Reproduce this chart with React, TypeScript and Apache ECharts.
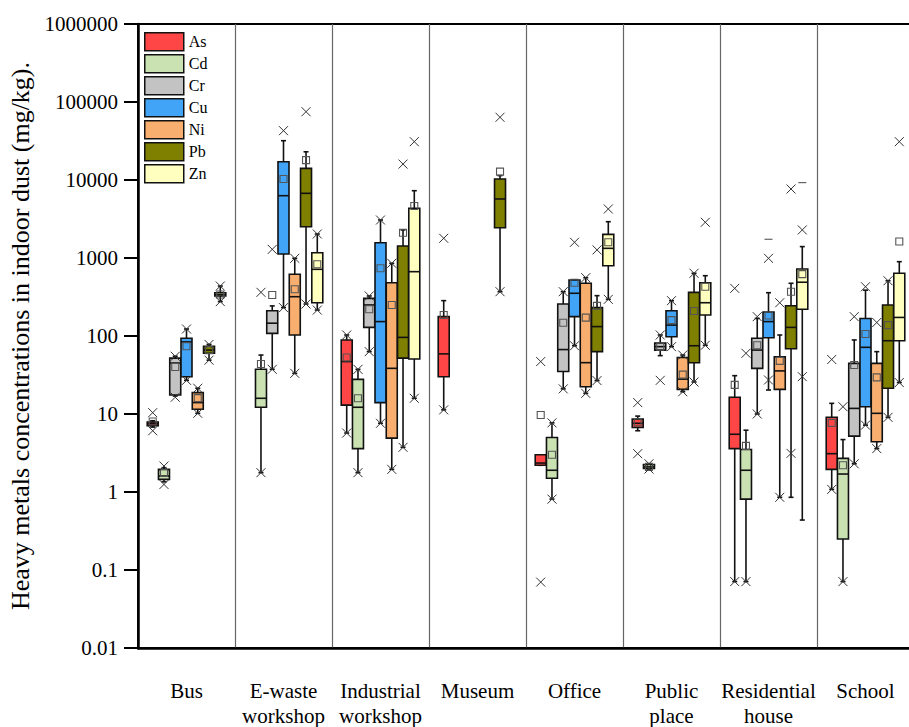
import React, { useEffect, useRef } from "react";
import * as echarts from "echarts";

const categories = ["Bus", "E-waste\nworkshop", "Industrial\nworkshop", "Museum", "Office", "Public\nplace", "Residential\nhouse", "School"];
const metals = ["As", "Cd", "Cr", "Cu", "Ni", "Pb", "Zn"];
const metalColors = ["#FF4646", "#CAE2B2", "#C3C3C3", "#42A4F7", "#F7AE6E", "#808000", "#FFFFC0"];
const yTickLabels = ["0.01", "0.1", "1", "10", "100", "1000", "10000", "100000", "1000000"];

// [min, Q1, median, Q3, max, mean] per category
const asStats = [
  [6.8, 7.1, 7.5, 7.9, 8.2, 8.0], null, [5.7, 13, 47, 89, 103, 53], [11.3, 30, 59, 177, 284, 186],
  [2.2, 2.2, 2.35, 3.0, 3.0, 9.7], [6.1, 6.7, 7.6, 8.6, 9.4, 7.8], [0.071, 3.6, 5.5, 16.4, 31, 23.6], [1.08, 1.95, 3.1, 9.1, 13.7, 7.7],
];
const cdStats = [
  [1.35, 1.45, 1.6, 1.95, 2.05, 1.75], [1.77, 12.2, 15.9, 37.4, 57, 43.8], [1.77, 3.6, 12.2, 27.8, 37.4, 15.9], null,
  [0.81, 1.5, 1.9, 5.0, 7.7, 3.0], [1.97, 2.0, 2.1, 2.25, 2.3, 2.1], [0.071, 0.81, 1.9, 3.5, 6.2, 3.9], [0.071, 0.25, 1.7, 2.7, 4.7, 2.2],
];
const crStats = [
  [17, 17.5, 45, 52, 55, 40], [37.4, 108, 146, 211, 243, 336], [63, 129, 250, 304, 326, 220], null,
  [21, 35, 67, 257, 370, 148], [56, 66, 73, 81, 103, 73], [10, 38.5, 66, 93.5, 168, 76], [2.3, 5.2, 11.8, 44.6, 89, 42.4],
];
const cuStats = [
  [27, 30, 84, 93.5, 123, 74], [231, 1125, 6290, 17170, 31900, 10300], [7.6, 14, 153, 1570, 3070, 738], null,
  [75, 177, 353, 522, 522, 482], [73, 98, 138, 211, 284, 160], [20.3, 95, 153, 203, 359, 183], [7.2, 12.4, 71.6, 168, 387, 106],
];
const niStats = [
  [10.2, 11.5, 14, 18.8, 21.4, 16], [33.2, 103, 319, 618, 991, 397], [1.95, 4.9, 38.5, 482, 855, 250], null,
  [18.4, 22.4, 45.5, 474, 559, 172], [19.3, 20.7, 28, 53, 57, 32], [0.855, 20.7, 35.7, 54, 103, 48], [3.6, 4.4, 10.2, 44.6, 63, 29.5],
];
const pbStats = [
  [49, 60, 66, 74, 78, 66], [257, 2520, 6750, 14100, 23000, 18000], [3.74, 52, 96, 1425, 2290, 2110], [370, 2440, 5710, 10300, 11400, 12800],
  [26.8, 63, 132, 231, 329, 243], [25.7, 45.5, 75, 363, 637, 209], [0.855, 68.5, 129, 244, 474, 370], [9.06, 21.4, 87, 250, 511, 138],
];
const znStats = [
  [276, 326, 340, 359, 437, 340], [215, 267, 716, 1170, 2030, 830], [15.9, 50.7, 668, 4340, 7290, 4640], null,
  [295, 797, 1330, 2010, 2920, 1590], [76, 186, 267, 482, 593, 428], [0.437, 220, 489, 722, 1400, 622], [25.3, 87, 173, 637, 897, 1630],
];

// "x" markers (1st / 99th percentiles and outliers) per category
const asCross = [[10.4, 6.1], [], [103, 5.7], [1790, 11.3], [47, 0.07], [14, 3.1], [408, 0.071], [50, 1.08]];
const cdCross = [[2.15, 1.25], [363, 1.77], [37.4, 1.77], [], [7.7, 0.81], [2.3, 1.97], [60, 0.071], [12.4, 0.071]];
const crCross = [[55, 16.4], [1290, 37.4], [326, 63], [], [370, 21], [103, 27], [177, 10], [177, 2.3]];
const cuCross = [[123, 27], [42900, 231], [3070, 7.6], [], [1590, 75], [284, 73], [991, 27.3], [428, 7.2]];
const niCross = [[21.4, 10.2], [991, 33.2], [855, 1.95], [], [559, 18.4], [57, 19.3], [267, 0.855], [149, 3.6]];
const pbCross = [[78, 49], [75100, 257], [16000, 3.74], [63700, 370], [1270, 26.8], [637, 25.7], [7670, 3.13], [511, 9.06]];
const znCross = [[437, 276], [2030, 215], [31000, 15.9], [], [4250, 295], [2870, 76], [2290, 30.1], [31000, 25.3]];

// "-" markers (extremes)
const cuDash = [[], [], [], [], [], [], [1740], []];
const znDash = [[], [], [], [], [], [], [9240], []];
const noDash = [[], [], [], [], [], [], [], []];

const allStats = [asStats, cdStats, crStats, cuStats, niStats, pbStats, znStats];
const allCross = [asCross, cdCross, crCross, cuCross, niCross, pbCross, znCross];
const allDash = [noDash, noDash, noDash, cuDash, noDash, noDash, znDash];

const FONT = '"Liberation Serif", "Times New Roman", serif';
const BOX_W = 11;

export default function App() {
  const ref = useRef<HTMLDivElement>(null);
  useEffect(() => {
    if (!ref.current) return;
    const chart = echarts.init(ref.current, undefined, { renderer: "svg" });

    const series = metals.map((name, mi) => {
      const data = allStats[mi]
        .map((r, ci) => (r ? [ci, ...r] : null))
        .filter((d) => d !== null);
      return {
        type: "custom",
        name,
        itemStyle: { color: metalColors[mi] },
        encode: { x: 0, y: [1, 2, 3, 4, 5, 6] },
        data,
        renderItem: (params: any, api: any) => {
          const cat = api.value(0);
          const mn = api.value(1), q1 = api.value(2), md = api.value(3), q3 = api.value(4), mx = api.value(5), mean = api.value(6);
          const band = api.size([1, 0], [cat, 1])[0];
          const avail = band * 0.8 - 2;
          const gap = (avail / 7) * 0.3;
          const bw = (avail - gap * 6) / 7;
          const off = bw / 2 - avail / 2 + mi * (gap + bw);
          const cx = api.coord([cat, md])[0] + off;
          const y = (v: number) => api.coord([cat, v])[1];
          const lineStyle = { stroke: "#111", lineWidth: 1.6 };
          const half = BOX_W / 2;
          const children: any[] = [];
          children.push({ type: "line", shape: { x1: cx, y1: y(mx), x2: cx, y2: y(q3) }, style: lineStyle });
          children.push({ type: "line", shape: { x1: cx, y1: y(q1), x2: cx, y2: y(mn) }, style: lineStyle });
          children.push({ type: "line", shape: { x1: cx - 2.5, y1: y(mx), x2: cx + 2.5, y2: y(mx) }, style: lineStyle });
          children.push({ type: "line", shape: { x1: cx - 2.5, y1: y(mn), x2: cx + 2.5, y2: y(mn) }, style: lineStyle });
          const yTop = y(q3), yBot = y(q1);
          children.push({
            type: "rect",
            shape: { x: cx - half, y: yTop, width: BOX_W, height: Math.max(yBot - yTop, 1) },
            style: { fill: metalColors[mi], stroke: "#111", lineWidth: 1.6 },
          });
          children.push({ type: "line", shape: { x1: cx - half, y1: y(md), x2: cx + half, y2: y(md) }, style: lineStyle });
          const ym = y(mean);
          children.push({
            type: "rect",
            shape: { x: cx - 3.5, y: ym - 3.5, width: 7, height: 7 },
            style: { fill: "none", stroke: "#555", lineWidth: 1.1 },
          });
          const crosses = allCross[mi][cat] || [];
          crosses.forEach((v: number) => {
            const yc = y(v);
            const s = 4.5;
            children.push({ type: "line", shape: { x1: cx - s, y1: yc - s, x2: cx + s, y2: yc + s }, style: { stroke: "#333", lineWidth: 1 } });
            children.push({ type: "line", shape: { x1: cx - s, y1: yc + s, x2: cx + s, y2: yc - s }, style: { stroke: "#333", lineWidth: 1 } });
          });
          const dashes = allDash[mi][cat] || [];
          dashes.forEach((v: number) => {
            const yd = y(v);
            children.push({ type: "line", shape: { x1: cx - 4, y1: yd, x2: cx + 4, y2: yd }, style: { stroke: "#444", lineWidth: 1 } });
          });
          return { type: "group", children };
        },
      };
    });

    chart.setOption({
      animation: false,
      backgroundColor: "#fff",
      textStyle: { fontFamily: FONT },
      grid: {
        left: 138, top: 24, bottom: 79, right: -5,
        show: true, borderColor: "#000", borderWidth: 2,
        outerBoundsMode: "none",
      },
      legend: {
        data: metals,
        orient: "vertical",
        left: 139, top: 27,
        icon: "rect",
        itemWidth: 39, itemHeight: 18, itemGap: 2.5,
        itemStyle: { borderColor: "#111", borderWidth: 1.5 },
        textStyle: { fontSize: 16, fontFamily: FONT, color: "#000" },
        selectedMode: false,
      },
      xAxis: {
        type: "category",
        data: categories,
        boundaryGap: true,
        axisLine: { lineStyle: { color: "#000", width: 2.5 } },
        axisTick: { show: false, interval: 0 },
        splitLine: { show: true, interval: 0, lineStyle: { color: "#666", width: 1.2 } },
        axisLabel: { interval: 0, margin: 30, fontSize: 21, lineHeight: 25, color: "#000", fontFamily: FONT, hideOverlap: false },
      },
      yAxis: {
        type: "log",
        logBase: 10,
        min: 0.01,
        max: 1000000,
        splitNumber: 8,
        name: "Heavy metals concentrations in indoor dust (mg/kg).",
        nameLocation: "middle",
        nameRotate: 90,
        nameGap: 103,
        nameTextStyle: { fontSize: 26, fontFamily: FONT, color: "#000" },
        axisLine: { show: true, lineStyle: { color: "#000", width: 2.5 } },
        axisTick: { show: true, length: 14, lineStyle: { color: "#000", width: 2 } },
        splitLine: { show: false },
        minorTick: { show: false },
        axisLabel: {
          margin: 20, fontSize: 21, color: "#000", fontFamily: FONT,
          formatter: (v: number) => yTickLabels[Math.round(Math.log10(v)) + 2] ?? "",
        },
      },
      series,
    });
    return () => chart.dispose();
  }, []);
  return <div ref={ref} style={{ position: "absolute", left: 0, top: 0, width: 909, height: 727 }} />;
}
